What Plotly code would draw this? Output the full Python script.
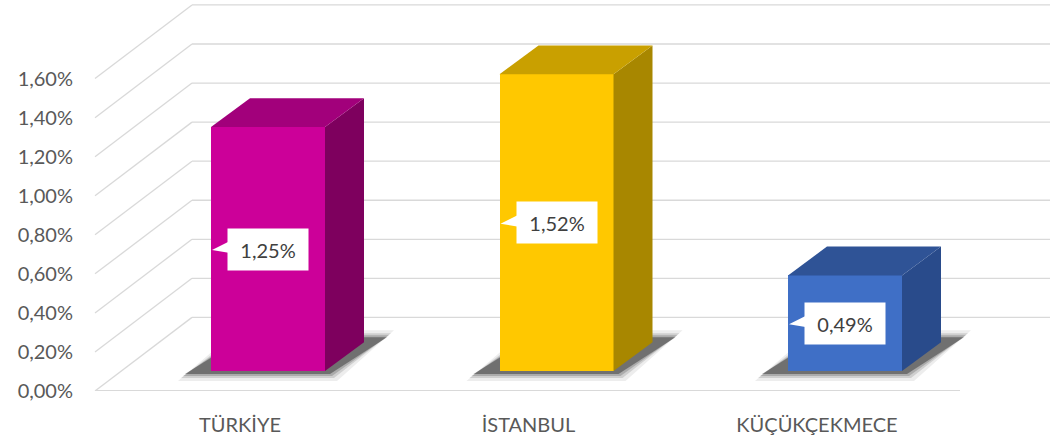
import plotly.graph_objects as go

# ---- data ----
categories = ["TÜRKİYE", "İSTANBUL", "KÜÇÜKÇEKMECE"]
values = [1.25, 1.52, 0.49]          # percent
tick_values = [0.0, 0.2, 0.4, 0.6, 0.8, 1.0, 1.2, 1.4, 1.6]
tick_labels = [f"{t:.2f}".replace(".", ",") + "%" for t in tick_values]

front_colors = ["#CC0099", "#FFC800", "#3F6FC6"]
top_colors = ["#A2007B", "#C9A000", "#2F5396"]
side_colors = ["#7E005E", "#A88700", "#294B8B"]

# ---- geometry (pixels) ----
W, H = 1050, 436
ML, MR, MT, MB = 75, 0, 0, 43
PW, PH = W - ML - MR, H - MT - MB
PPU = 288.5               # px per category step
PPV = 196.25              # px per 1 %
BAR_CENTER0 = 268         # px of first bar centre
X0 = -(BAR_CENTER0 - ML) / PPU
X1 = X0 + PW / PPU
Y_TOP = PH / PPV

BAR_SHIFT = 20 / PPV      # bar plane above front floor
BACK_SHIFT = 74 / PPV     # back wall above front floor
BAR_W = 114 / PPU
DX = 39 / PPU             # depth offset x
DY = 29 / PPV             # depth offset y
LABEL_SHIFT = 28 / PPU
BOX_HALF = 40             # px half width of data-label box


def px_x(px):
    return X0 + (px - ML) / PPU


fig = go.Figure()

# shadows (base subplot, drawn beneath the bar subplot)
for i, v in enumerate(values):
    xl, xr = i - BAR_W / 2, i + BAR_W / 2
    for grow, alpha in [(7, 0.08), (4, 0.14), (2, 0.2), (0, 0.42)]:
        g = grow / PPU
        gv = grow / PPV
        fig.add_trace(go.Scatter(
            x=[xl - 26 / PPU - g, xr + 5 / PPU + g, xr + 62 / PPU + g, xl + 33 / PPU - g],
            y=[BAR_SHIFT - 3 / PPV - gv, BAR_SHIFT - 3 / PPV - gv,
               BAR_SHIFT + 34 / PPV + gv, BAR_SHIFT + 34 / PPV + gv],
            mode="lines", fill="toself", line=dict(width=0),
            fillcolor=f"rgba(30,30,30,{alpha})", hoverinfo="skip", showlegend=False))

# front faces
fig.add_trace(go.Bar(
    x=list(range(len(categories))), y=values, yaxis="y2", width=BAR_W,
    marker=dict(color=front_colors, line=dict(width=0)),
    hoverinfo="skip", showlegend=False))

# side and top faces
for i, v in enumerate(values):
    xl, xr = i - BAR_W / 2, i + BAR_W / 2
    fig.add_trace(go.Scatter(
        x=[xr, xr + DX, xr + DX, xr, xr], y=[0, DY, v + DY, v, 0],
        yaxis="y2", mode="lines", fill="toself", line=dict(width=0, color=side_colors[i]),
        fillcolor=side_colors[i], hoverinfo="skip", showlegend=False))
    fig.add_trace(go.Scatter(
        x=[xl, xr, xr + DX, xl + DX, xl], y=[v, v, v + DY, v + DY, v],
        yaxis="y2", mode="lines", fill="toself", line=dict(width=0, color=top_colors[i]),
        fillcolor=top_colors[i], hoverinfo="skip", showlegend=False))

# gridlines on back wall and diagonal side-wall lines
shapes = []
grid_col = "#D9D9D9"
for tv in tick_values:
    shapes.append(dict(type="line", xref="x", yref="y", layer="below",
                       x0=px_x(192), x1=X1, y0=tv + BACK_SHIFT, y1=tv + BACK_SHIFT,
                       line=dict(color=grid_col, width=1.3)))
    shapes.append(dict(type="line", xref="x", yref="y", layer="below",
                       x0=px_x(95), x1=px_x(192), y0=tv, y1=tv + BACK_SHIFT,
                       line=dict(color=grid_col, width=1.3)))
# front floor edge
shapes.append(dict(type="line", xref="x", yref="y", layer="below",
                   x0=px_x(95), x1=px_x(960), y0=0, y1=0,
                   line=dict(color=grid_col, width=2)))

# data labels with callout pointer
annotations = []
for i, v in enumerate(values):
    txt = f"{v:.2f}".replace(".", ",") + "%"
    xl = i - BAR_W / 2
    yc = v / 2
    bl = i - (BOX_HALF - 2) / PPU
    shapes.append(dict(
        type="path", xref="x", yref="y2", layer="above", line=dict(width=0),
        fillcolor="white",
        path=(f"M {xl + 1 / PPU},{yc - 1 / PPV} "
              f"L {bl},{yc + 8 / PPV} L {bl},{yc - 4 / PPV} Z")))
    annotations.append(dict(
        x=i, y=yc, xref="x", yref="y2", text=txt, showarrow=False,
        bgcolor="white", borderpad=8, width=64, height=25,
        font=dict(family="Lato", size=20, color="#404040")))

fig.update_layout(
    width=W, height=H,
    margin=dict(l=ML, r=MR, t=MT, b=MB),
    paper_bgcolor="white", plot_bgcolor="white",
    separators=",.",
    shapes=shapes, annotations=annotations,
    bargap=0,
    xaxis=dict(range=[X0, X1], showgrid=False, zeroline=False, showline=False,
               tickmode="array",
               tickvals=[i - LABEL_SHIFT for i in range(len(categories))],
               ticktext=categories, ticks="", ticklabelstandoff=20,
               tickfont=dict(family="Lato", size=20, color="#595959")),
    yaxis=dict(range=[0, Y_TOP], showgrid=False, zeroline=False, showline=False,
               tickmode="array", tickvals=tick_values, ticktext=tick_labels,
               ticks="", ticklabelstandoff=1,
               tickfont=dict(family="Lato", size=20, color="#595959")),
    yaxis2=dict(range=[-BAR_SHIFT, Y_TOP - BAR_SHIFT], overlaying="y",
                visible=False, showgrid=False, zeroline=False),
)

fig.write_html("out.html", post_script="document.body.style.margin='0';",
               config={"displayModeBar": False})
